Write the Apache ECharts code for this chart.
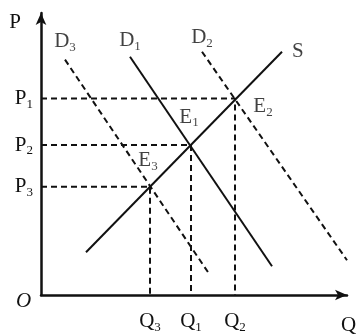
<!DOCTYPE html>
<html><head><meta charset="utf-8">
<script src="https://cdn.jsdelivr.net/npm/echarts@6/dist/echarts.min.js"></script>
<style>html,body{margin:0;padding:0;background:#fff}#c{width:360px;height:336px}</style>
</head><body><div id="c"></div>
<script>
// curves as [Q, P] endpoint pairs (arbitrary units)
const supplyS = [[45, 43], [241, 245]];
const demandD1 = [[89, 240], [231, 29]];
const demandD2 = [[161, 245], [306, 35]];
const demandD3 = [[24, 237], [167, 23]];
// equilibria E1, E2, E3
const eqNames = ['1', '2', '3'];
const eqQ = [150, 194, 109];
const eqP = [151, 198, 109];
// price tick labels (P2 at E1, P1 at E2, P3 at E3)
const priceNames = ['2', '1', '3'];
// quantity tick labels
const qtyNames = ['1', '2', '3'];

const black = '#111';
const font = 'Liberation Serif, DejaVu Serif, serif';
function sub(main, s) { return '{m|' + main + '}{s|' + s + '}'; }
const rich = {
  m: { fontSize: 21, fontFamily: font, color: black },
  s: { fontSize: 13, fontFamily: font, color: black, padding: [12, 0, 0, 0] }
};

const series = [];
function curve(data, dashed) {
  return {
    type: 'line', data: data, symbol: 'none', silent: true,
    lineStyle: { color: black, width: 2, type: dashed ? [6, 4] : 'solid' }
  };
}
series.push(curve(supplyS, false));
series.push(curve(demandD1, false));
series.push(curve(demandD2, true));
series.push(curve(demandD3, true));
// guide lines
for (let i = 0; i < eqQ.length; i++) {
  series.push(curve([[0, eqP[i]], [eqQ[i], eqP[i]], [eqQ[i], 0]], true));
}
// curve labels
series.push({
  type: 'scatter', symbolSize: 0, silent: true,
  data: [
    { value: supplyS[1], label: { formatter: '{m|S}', position: 'right', distance: 10 } },
    { value: demandD1[0], label: { formatter: sub('D', '1'), position: 'top', distance: 4 } },
    { value: demandD2[0], label: { formatter: sub('D', '2'), position: 'top', distance: 2 } },
    { value: demandD3[0], label: { formatter: sub('D', '3'), position: 'top', distance: 6 } }
  ],
  label: { show: true, rich: rich }
});
// equilibrium labels
series.push({
  type: 'scatter', symbolSize: 0, silent: true,
  data: [
    { value: [eqQ[0], eqP[0]], label: { formatter: sub('E', eqNames[0]), offset: [-2, -28] } },
    { value: [eqQ[1], eqP[1]], label: { formatter: sub('E', eqNames[1]), offset: [28, 8] } },
    { value: [eqQ[2], eqP[2]], label: { formatter: sub('E', eqNames[2]), offset: [-2, -26] } }
  ],
  label: { show: true, position: 'inside', rich: rich }
});

const chart = echarts.init(document.getElementById('c'), null, { renderer: 'canvas' });
chart.setOption({
  animation: false,
  backgroundColor: '#fff',
  grid: { left: 41, right: 13, top: 13, bottom: 39 },
  xAxis: {
    type: 'value', min: 0, max: 306,
    name: 'Q', nameLocation: 'end', nameGap: -6,
    nameTextStyle: { fontSize: 21, fontFamily: font, color: black, align: 'left', verticalAlign: 'top', padding: [20, 0, 0, 0] },
    axisLine: { show: true, symbol: ['none', 'arrow'], symbolSize: [8, 12], lineStyle: { color: black, width: 2.5 } },
    axisTick: { show: false }, splitLine: { show: false },
    axisLabel: {
      show: true, customValues: eqQ, margin: 14,
      formatter: function (v) { return sub('Q', qtyNames[eqQ.indexOf(v)]); },
      rich: rich
    }
  },
  yAxis: {
    type: 'value', min: 0, max: 284,
    name: 'P', nameLocation: 'end', nameGap: -20,
    nameTextStyle: { fontSize: 21, fontFamily: font, color: black, align: 'right', padding: [0, 20, 0, 0] },
    axisLine: { show: true, symbol: ['none', 'arrow'], symbolSize: [8, 12], lineStyle: { color: black, width: 2.5 } },
    axisTick: { show: false }, splitLine: { show: false },
    axisLabel: {
      show: true, customValues: eqP, margin: 8,
      formatter: function (v) { return sub('P', priceNames[eqP.indexOf(v)]); },
      rich: rich
    }
  },
  graphic: [{
    type: 'text', left: 16, top: 291,
    style: { text: 'O', font: 'italic 21px ' + font, fill: black }
  }],
  series: series
});
</script></body></html>
